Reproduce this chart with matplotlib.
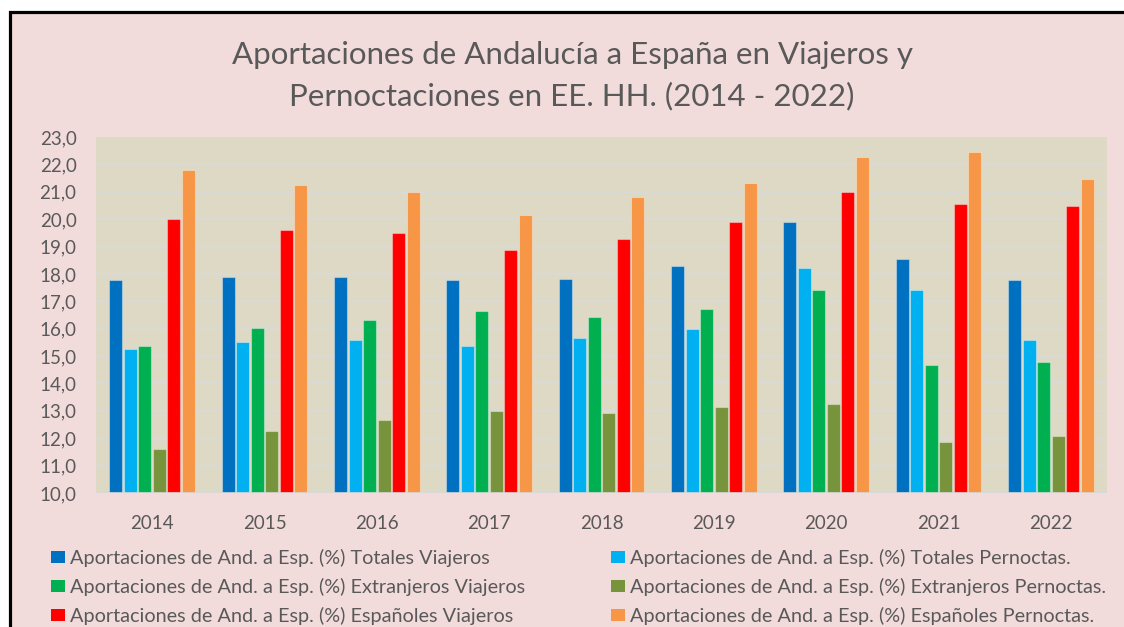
import numpy as np
import matplotlib
matplotlib.use("Agg")
import matplotlib.pyplot as plt
from matplotlib.patches import Rectangle, Patch
from matplotlib.ticker import FuncFormatter

# ── data ──────────────────────────────────────────────────────────────────────
years = ["2014", "2015", "2016", "2017", "2018", "2019", "2020", "2021", "2022"]

totales_viajeros     = [17.78, 17.90, 17.90, 17.77, 17.82, 18.29, 19.88, 18.55, 17.77]
totales_pernoctas    = [15.26, 15.51, 15.58, 15.37, 15.65, 15.98, 18.23, 17.43, 15.58]
extranjeros_viajeros = [15.38, 16.04, 16.31, 16.64, 16.43, 16.71, 17.43, 14.66, 14.78]
extranjeros_pernoct  = [11.62, 12.26, 12.67, 13.00, 12.93, 13.14, 13.26, 11.87, 12.08]
espanoles_viajeros   = [20.00, 19.60, 19.48, 18.89, 19.29, 19.88, 21.00, 20.54, 20.47]
espanoles_pernoctas  = [21.80, 21.26, 21.00, 20.14, 20.81, 21.33, 22.26, 22.45, 21.47]

pre = "Aportaciones de And. a Esp. (%) "
series = [
    (pre + "Totales Viajeros",        totales_viajeros,     "#0070C0"),
    (pre + "Totales Pernoctas.",      totales_pernoctas,    "#00B0F0"),
    (pre + "Extranjeros Viajeros",    extranjeros_viajeros, "#00B050"),
    (pre + "Extranjeros Pernoctas.",  extranjeros_pernoct,  "#77933C"),
    (pre + "Españoles Viajeros",      espanoles_viajeros,   "#FF0000"),
    (pre + "Españoles Pernoctas.",    espanoles_pernoctas,  "#F79646"),
]

TITLE = "Aportaciones de Andalucía a España en Viajeros y\nPernoctaciones en EE. HH. (2014 - 2022)"

# ── style ─────────────────────────────────────────────────────────────────────
plt.rcParams["font.family"] = ["Lato", "DejaVu Sans"]
TXT = "#595959"
PINK = "#F2DCDB"
PLOT_BG = "#DDD9C4"
GRID = "#D9D9D9"

W, H = 1124, 627
fig = plt.figure(figsize=(W / 100, H / 100), dpi=100, facecolor="white")

# chart frame (cropped: only top and left black border visible)
fig.patches.append(Rectangle((10 / W, -0.2), 1.3, 1.2 - 12.5 / H,
                             transform=fig.transFigure, facecolor=PINK,
                             edgecolor="black", linewidth=2.3, zorder=-5))

ax = fig.add_axes([96 / W, 1 - 493 / H, (1107 - 96) / W, (493 - 137) / H])
ax.set_facecolor(PLOT_BG)

x = np.arange(len(years))
slot = 0.129
bw = 0.116
n = len(series)
handles = []
for i, (lab, vals, col) in enumerate(series):
    off = (i - (n - 1) / 2) * slot
    ax.bar(x + off, np.array(vals) - 10, bottom=10, width=bw, color=col,
           edgecolor=(1, 1, 1, 0.35), linewidth=0.8, zorder=3)
    handles.append(Patch(facecolor=col, edgecolor="none", label=lab))

ax.set_xlim(-0.5, len(years) - 0.5)
ax.set_ylim(10, 23)
ax.set_yticks(np.arange(10, 23.5, 1))
ax.yaxis.set_major_formatter(FuncFormatter(lambda v, p: f"{v:.1f}".replace(".", ",")))
ax.set_xticks(x)
ax.set_xticklabels(years)
ax.tick_params(axis="both", length=0, labelsize=13.5, labelcolor=TXT)
ax.tick_params(axis="y", pad=14)
ax.tick_params(axis="x", pad=16)
ax.grid(axis="y", color=GRID, linewidth=1.2, zorder=1)
ax.set_axisbelow(True)
for s in ax.spines.values():
    s.set_visible(False)
ax.axhline(10, color=GRID, linewidth=1.2, zorder=4)

fig.text(572 / W, 1 - 41 / H, TITLE, ha="center", va="top",
         fontsize=22.5, color=TXT, linespacing=1.55)

# legend: two columns, row-major order as in the reference
leg_kw = dict(frameon=False, fontsize=14.3, labelcolor=TXT, loc="upper left",
              borderpad=0, borderaxespad=0, handlelength=0.68, handleheight=0.6,
              handletextpad=0.3, labelspacing=0.55)
fig.legend(handles=handles[0::2], bbox_to_anchor=(51 / W, 1 - 549 / H), **leg_kw)
fig.legend(handles=handles[1::2], bbox_to_anchor=(611 / W, 1 - 549 / H), **leg_kw)

fig.savefig("out.png", dpi=100, facecolor=fig.get_facecolor())
